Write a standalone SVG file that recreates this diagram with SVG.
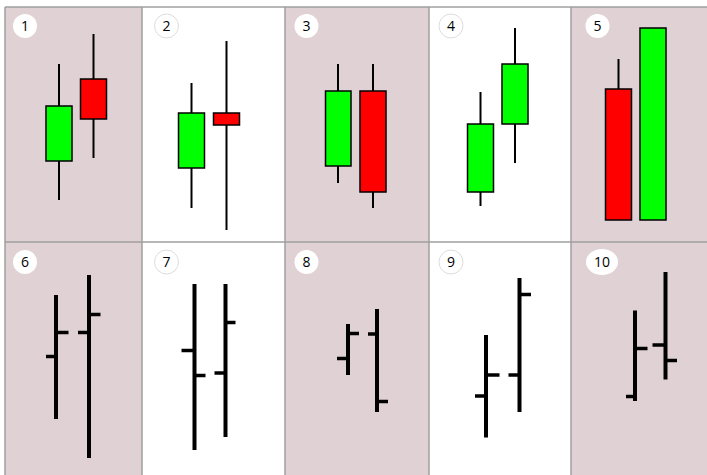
<svg xmlns="http://www.w3.org/2000/svg" width="707" height="475" viewBox="0 0 707 475">
<style>
.pink{fill:#E0D1D5}
.white{fill:#FFFFFF}
.grid{stroke:#A0A0A0;stroke-width:1.5;fill:none}
.lab{fill:#FFFFFF}
.labw{fill:#FFFFFF;stroke:#DDDDDD;stroke-width:1}
.num{font-family:"Open Sans","Liberation Sans",sans-serif;font-size:14px;fill:#000;text-anchor:middle}
.g{fill:#00FF00;stroke:#000;stroke-width:1.5}
.r{fill:#FF0000;stroke:#000;stroke-width:1.5}
.w{stroke:#000;stroke-width:2;fill:none}
.b{stroke:#000;stroke-width:4;fill:none}
.t{stroke:#000;stroke-width:3.5;fill:none}
</style>
<rect x="0" y="0" width="707" height="475" fill="#FFFFFF"/>
<g id="panels">
<rect class="pink" x="5" y="7" width="137" height="235"/>
<rect class="white" x="142" y="7" width="143" height="235"/>
<rect class="pink" x="285" y="7" width="144" height="235"/>
<rect class="white" x="429" y="7" width="142" height="235"/>
<rect class="pink" x="571" y="7" width="136" height="235"/>
<rect class="pink" x="5" y="242" width="137" height="233"/>
<rect class="white" x="142" y="242" width="143" height="233"/>
<rect class="pink" x="285" y="242" width="144" height="233"/>
<rect class="white" x="429" y="242" width="142" height="233"/>
<rect class="pink" x="571" y="242" width="136" height="233"/>
<path class="grid" d="M5,7H707M5,242H707M5,7V475M142,7V475M285,7V475M429,7V475M571,7V475"/>
</g>
<g id="p1">
<circle class="lab" cx="25" cy="26" r="12"/><text class="num" x="25" y="31">1</text>
<line class="w" x1="59" y1="64" x2="59" y2="200"/>
<rect class="g" x="46" y="106" width="26" height="55"/>
<line class="w" x1="93.5" y1="34" x2="93.5" y2="158"/>
<rect class="r" x="80.5" y="79" width="26" height="40"/>
</g>
<g id="p2">
<circle class="labw" cx="166.5" cy="26" r="12"/><text class="num" x="166.5" y="31">2</text>
<line class="w" x1="191.5" y1="83" x2="191.5" y2="208"/>
<rect class="g" x="178.5" y="113" width="26" height="55"/>
<line class="w" x1="226.5" y1="41" x2="226.5" y2="230"/>
<rect class="r" x="213.5" y="113" width="26" height="12"/>
</g>
<g id="p3">
<circle class="lab" cx="306.5" cy="26" r="12"/><text class="num" x="306.5" y="31">3</text>
<line class="w" x1="338" y1="64" x2="338" y2="183"/>
<rect class="g" x="325.5" y="91" width="25.5" height="75"/>
<line class="w" x1="373" y1="64" x2="373" y2="208"/>
<rect class="r" x="360" y="91" width="26" height="101"/>
</g>
<g id="p4">
<circle class="labw" cx="451" cy="26" r="12"/><text class="num" x="451" y="31">4</text>
<line class="w" x1="480.5" y1="92" x2="480.5" y2="206"/>
<rect class="g" x="467.5" y="124" width="26" height="68"/>
<line class="w" x1="515" y1="28" x2="515" y2="163"/>
<rect class="g" x="502" y="64" width="26" height="60"/>
</g>
<g id="p5">
<circle class="lab" cx="597.5" cy="26" r="12"/><text class="num" x="597.5" y="31">5</text>
<line class="w" x1="618.5" y1="59" x2="618.5" y2="89"/>
<rect class="r" x="605.5" y="89" width="26" height="131"/>
<rect class="g" x="640" y="28" width="26" height="192"/>
</g>
<g id="p6">
<circle class="lab" cx="25" cy="262" r="12"/><text class="num" x="25" y="267">6</text>
<line class="b" x1="56" y1="295" x2="56" y2="419"/>
<line class="t" x1="46" y1="356.5" x2="56" y2="356.5"/>
<line class="t" x1="56" y1="332.5" x2="68.5" y2="332.5"/>
<line class="b" x1="89" y1="275" x2="89" y2="458"/>
<line class="t" x1="78" y1="332.5" x2="89" y2="332.5"/>
<line class="t" x1="89" y1="314.5" x2="100.5" y2="314.5"/>
</g>
<g id="p7">
<circle class="labw" cx="166.5" cy="262" r="12"/><text class="num" x="166.5" y="267">7</text>
<line class="b" x1="194.5" y1="284" x2="194.5" y2="450"/>
<line class="t" x1="181.5" y1="350.5" x2="194.5" y2="350.5"/>
<line class="t" x1="194.5" y1="375.5" x2="205.5" y2="375.5"/>
<line class="b" x1="225.5" y1="284" x2="225.5" y2="437"/>
<line class="t" x1="214.5" y1="373" x2="225.5" y2="373"/>
<line class="t" x1="225.5" y1="322.5" x2="235.5" y2="322.5"/>
</g>
<g id="p8">
<circle class="lab" cx="306.5" cy="262" r="12"/><text class="num" x="306.5" y="267">8</text>
<line class="b" x1="348" y1="324" x2="348" y2="375"/>
<line class="t" x1="337" y1="358.5" x2="348" y2="358.5"/>
<line class="t" x1="348" y1="333.5" x2="359" y2="333.5"/>
<line class="b" x1="377" y1="309" x2="377" y2="412"/>
<line class="t" x1="368" y1="334" x2="377" y2="334"/>
<line class="t" x1="377" y1="401.5" x2="388" y2="401.5"/>
</g>
<g id="p9">
<circle class="labw" cx="451" cy="262" r="12"/><text class="num" x="451" y="267">9</text>
<line class="b" x1="486" y1="335" x2="486" y2="437.5"/>
<line class="t" x1="475" y1="396" x2="486" y2="396"/>
<line class="t" x1="486" y1="375" x2="499.5" y2="375"/>
<line class="b" x1="519.5" y1="278" x2="519.5" y2="412"/>
<line class="t" x1="508.5" y1="375" x2="519.5" y2="375"/>
<line class="t" x1="519.5" y1="294.5" x2="531" y2="294.5"/>
</g>
<g id="p10">
<ellipse class="lab" cx="602" cy="262" rx="16" ry="13"/><text class="num" x="602" y="267">10</text>
<line class="b" x1="635" y1="310.5" x2="635" y2="401"/>
<line class="t" x1="626" y1="396.5" x2="635" y2="396.5"/>
<line class="t" x1="635" y1="348.5" x2="647.5" y2="348.5"/>
<line class="b" x1="665.5" y1="272" x2="665.5" y2="379.5"/>
<line class="t" x1="652.5" y1="345" x2="665.5" y2="345"/>
<line class="t" x1="665.5" y1="360.5" x2="677" y2="360.5"/>
</g>
</svg>
